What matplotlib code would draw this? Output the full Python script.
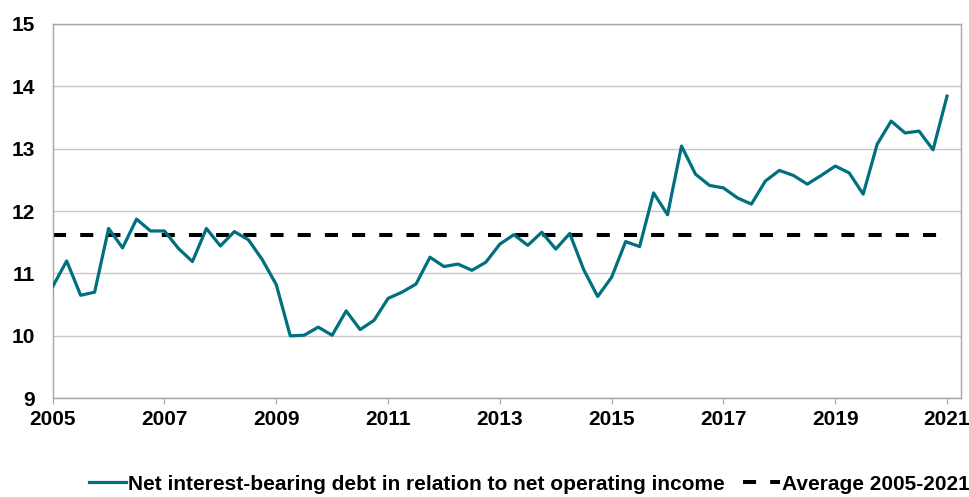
import matplotlib
matplotlib.use("Agg")
import matplotlib.pyplot as plt
import numpy as np

plt.rcParams['font.family'] = ['Liberation Sans', 'DejaVu Sans']

start_year = 2005
quarters_per_year = 4
debt_ratio = [
    10.79, 11.20, 10.65, 10.70,   # 2005
    11.72, 11.41, 11.87, 11.68,   # 2006
    11.68, 11.40, 11.19, 11.72,   # 2007
    11.44, 11.67, 11.54, 11.22,   # 2008
    10.82, 10.00, 10.01, 10.14,   # 2009
    10.01, 10.40, 10.10, 10.25,   # 2010
    10.60, 10.70, 10.83, 11.26,   # 2011
    11.11, 11.15, 11.05, 11.18,   # 2012
    11.47, 11.62, 11.45, 11.66,   # 2013
    11.39, 11.64, 11.06, 10.63,   # 2014
    10.94, 11.51, 11.43, 12.29,   # 2015
    11.94, 13.04, 12.59, 12.41,   # 2016
    12.37, 12.21, 12.11, 12.48,   # 2017
    12.65, 12.57, 12.43, 12.57,   # 2018
    12.72, 12.61, 12.27, 13.07,   # 2019
    13.44, 13.25, 13.28, 12.98,   # 2020
    13.84,                        # 2021
]
average_value = 11.62
series_label = "Net interest-bearing debt in relation to net operating income"
average_label = "Average 2005-2021"
x_ticks = [2005, 2007, 2009, 2011, 2013, 2015, 2017, 2019, 2021]
y_ticks = [9, 10, 11, 12, 13, 14, 15]

dates = start_year + np.arange(len(debt_ratio)) / quarters_per_year
average_series = [average_value] * len(debt_ratio)

fig = plt.figure(figsize=(9.7, 4.97), dpi=100)
ax = fig.add_axes([52.7 / 970, 1 - 398.3 / 497, (961 - 52.7) / 970, (398.3 - 23.7) / 497])

teal = '#00707E'
ax.plot(dates, debt_ratio, color=teal, lw=2.3, solid_joinstyle='round',
        label=series_label, zorder=3)
ax.plot(dates, average_series, color='black', lw=2.9, dashes=(3.25, 3.5),
        label=average_label, zorder=2)

ax.set_xlim(2005, 2021.25)
ax.set_ylim(9, 15)
ax.set_xticks(x_ticks)
ax.set_yticks(y_ticks)
ax.set_xticklabels([str(t) for t in x_ticks], fontsize=15, fontweight='bold')
ax.set_yticklabels([str(t) for t in y_ticks], fontsize=15, fontweight='bold')
ax.tick_params(axis='x', length=4.3, width=0.8, color='#A6A6A6', pad=4)
ax.tick_params(axis='y', length=0, pad=13)

ax.grid(axis='y', color='#C8C8C8', lw=1.0)
ax.set_axisbelow(True)
for side in ['left', 'bottom', 'right', 'top']:
    ax.spines[side].set_color('#A6A6A6')
    ax.spines[side].set_linewidth(1.0)

fig.legend(loc='center', bbox_to_anchor=(0.5458, 0.026), ncol=2, frameon=False,
           prop={'size': 15, 'weight': 'bold'}, handlelength=1.75,
           handletextpad=0.1, columnspacing=0.9, borderaxespad=0, borderpad=0)

fig.savefig('out.png', dpi=100)
